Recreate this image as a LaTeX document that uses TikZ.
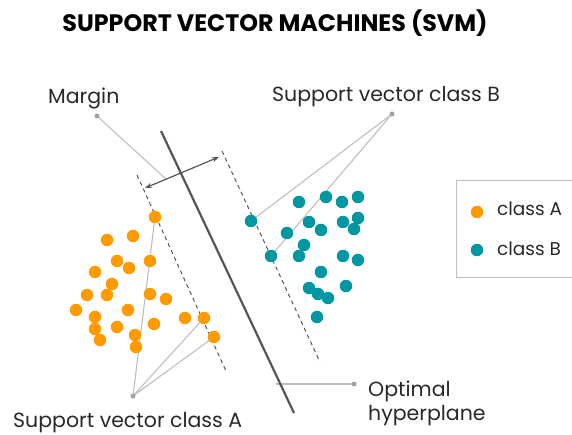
\documentclass[tikz,border=0pt]{standalone}
\usepackage{fontspec}
\setmainfont{Poppins}
\usetikzlibrary{arrows.meta,backgrounds}

\definecolor{clsA}{RGB}{255,154,0}
\definecolor{clsB}{RGB}{0,151,160}
\definecolor{planegray}{RGB}{85,85,85}
\definecolor{callgray}{RGB}{190,190,190}
\definecolor{labelgray}{RGB}{40,40,40}

\tikzset{
  adot/.style={circle,fill=clsA,inner sep=0pt,minimum size=12.5pt},
  bdot/.style={circle,fill=clsB,inner sep=0pt,minimum size=12.5pt},
  pin/.style={circle,fill=callgray!85!black,inner sep=0pt,minimum size=5pt},
  callout/.style={draw=callgray,line width=1.1pt},
  marginline/.style={draw=planegray,line width=1pt,dash pattern=on 4pt off 3.5pt},
  plane/.style={draw=planegray,line width=2.2pt},
  lbl/.style={inner sep=0pt,anchor=base west,text=labelgray,font=\fontsize{20.5}{24}\selectfont},
  leglbl/.style={lbl,font=\fontsize{18.5}{22}\selectfont},
}

\begin{document}
\begin{tikzpicture}[x=1pt,y=-1pt]
\useasboundingbox (0,0) rectangle (572,435);

% title
\node[inner sep=0pt,anchor=base,font=\bfseries\fontsize{23.8}{27}\selectfont] (title) at (275,32) {SUPPORT VECTOR MACHINES (SVM)};

% class A points
\node[adot] (a1) at (155,217) {};
\node[adot] (a2) at (107,240) {};
\node[adot] (a3) at (133,236) {};
\node[adot] (a4) at (117,261) {};
\node[adot] (a5) at (129,268) {};
\node[adot] (a6) at (150,261) {};
\node[adot] (a7) at (95,272) {};
\node[adot] (a8) at (112,284) {};
\node[adot] (a9) at (87,295) {};
\node[adot] (a10) at (107,295) {};
\node[adot] (a11) at (150,294) {};
\node[adot] (a12) at (166,299) {};
\node[adot] (a13) at (76,310) {};
\node[adot] (a14) at (95,317) {};
\node[adot] (a15) at (128,310) {};
\node[adot] (a16) at (95,329) {};
\node[adot] (a17) at (117,327) {};
\node[adot] (a18) at (100,340) {};
\node[adot] (a19) at (135,335) {};
\node[adot] (a20) at (136,347) {};
\node[adot] (a21) at (154,324) {};
\node[adot] (a22) at (185,318) {};
\node[adot] (a23) at (204,318) {};
\node[adot] (a24) at (214,337) {};

% class B points
\node[bdot] (b1) at (251,221) {};
\node[bdot] (b2) at (299,202) {};
\node[bdot] (b3) at (326,197) {};
\node[bdot] (b4) at (342,202) {};
\node[bdot] (b5) at (358,197) {};
\node[bdot] (b6) at (309,222) {};
\node[bdot] (b7) at (287,233) {};
\node[bdot] (b8) at (321,230) {};
\node[bdot] (b9) at (343,222) {};
\node[bdot] (b10) at (358,218) {};
\node[bdot] (b11) at (354,229) {};
\node[bdot] (b12) at (304,245) {};
\node[bdot] (b13) at (271,256) {};
\node[bdot] (b14) at (299,256) {};
\node[bdot] (b15) at (343,256) {};
\node[bdot] (b16) at (358,260) {};
\node[bdot] (b17) at (321,272) {};
\node[bdot] (b18) at (309,288) {};
\node[bdot] (b19) at (318,294) {};
\node[bdot] (b20) at (328,298) {};
\node[bdot] (b21) at (346,286) {};
\node[bdot] (b22) at (317,317) {};

% callout pins
\node[pin] (pinM) at (97,116) {};
\node[pin] (pinB) at (392,114) {};
\node[pin] (pinA) at (133,396) {};
\node[pin] (pinH) at (354,384) {};

% boundary lines and margin arrow
\coordinate (hTop) at (161,131);
\coordinate (hBot) at (294,413);
\coordinate (lTop) at (137,175);
\coordinate (lBot) at (226,371);
\coordinate (rTop) at (222,151);
\coordinate (rBot) at (320,362);
\coordinate (arL) at (145,188);
\coordinate (arR) at (219,157);
\coordinate (mEnd) at (167,180);
\coordinate (hEnd) at (276,384);

\begin{scope}[on background layer]
  \draw[callout] (pinM.center) -- (mEnd);
  \draw[callout] (pinB.center) -- (b1.center);
  \draw[callout] (pinB.center) -- (b13.center);
  \draw[callout] (pinA.center) -- (a1.center);
  \draw[callout] (pinA.center) -- (a23.center);
  \draw[callout] (pinA.center) -- (a24.center);
  \draw[callout] (pinH.center) -- (hEnd);
  \draw[marginline] (lTop) -- (lBot);
  \draw[marginline] (rTop) -- (rBot);
  \draw[plane] (hTop) -- (hBot);
  \draw[draw=planegray,line width=1.2pt,{Stealth[length=7pt,width=5pt]}-{Stealth[length=7pt,width=5pt]}] (arL) -- (arR);
\end{scope}

% labels
\node[lbl] (tMargin) at (48,104) {Margin};
\node[lbl] (tSvB) at (272,102) {Support vector class B};
\node[lbl] (tSvA) at (13,427) {Support vector class A};
\node[lbl] (tOpt) at (368,396) {Optimal};
\node[lbl] (tHyp) at (368,420) {hyperplane};

% legend
\draw[draw=callgray,line width=1pt] (572,181) -- (456,181) -- (456,277) -- (572,277);
\node[adot] (legA) at (477,212) {};
\node[bdot] (legB) at (477,250) {};
\node[leglbl] (tA) at (497,216) {class A};
\node[leglbl] (tB) at (497,255) {class B};
\end{tikzpicture}
\end{document}
